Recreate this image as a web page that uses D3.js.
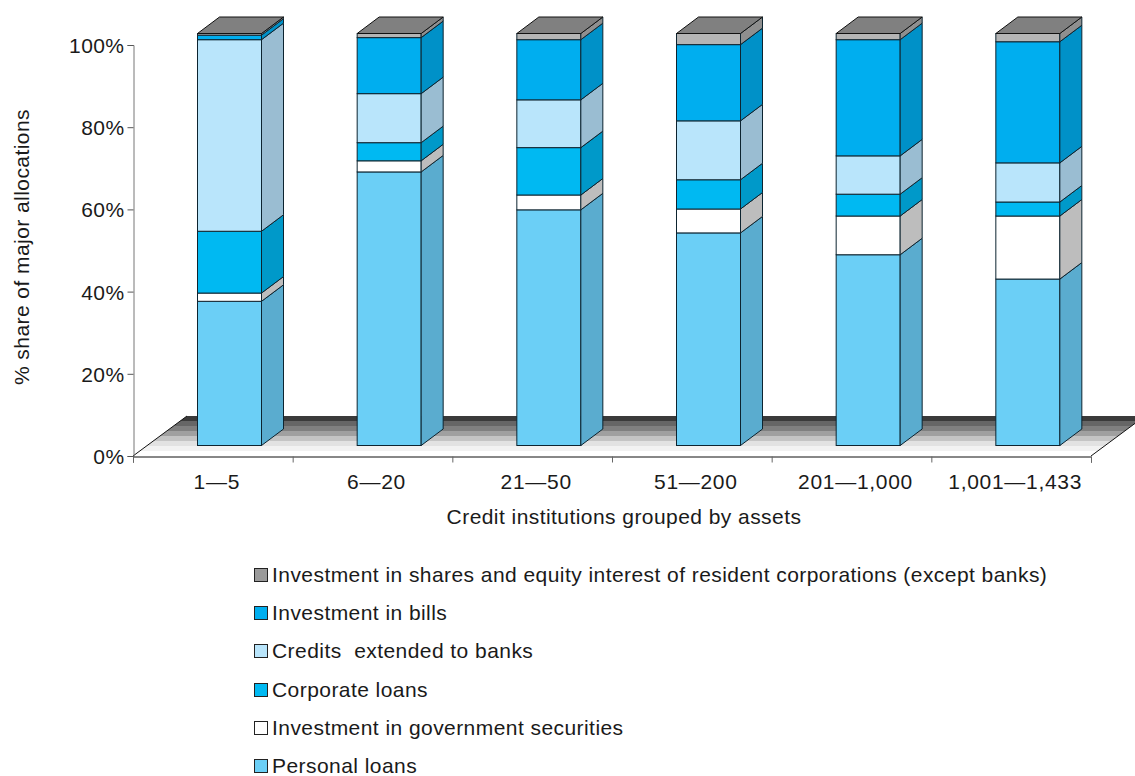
<!DOCTYPE html>
<html><head><meta charset="utf-8">
<script src="https://cdn.jsdelivr.net/npm/d3@7"></script>
<style>html,body{margin:0;padding:0;background:#fff}svg{display:block}text{font-family:"Liberation Sans",sans-serif;fill:#1a1a1a;white-space:pre;font-size:21px;letter-spacing:.44px}</style>
</head><body><div id="c"></div>
<script>
const categories=["1—5","6—20","21—50","51—200","201—1,000","1,001—1,433"];
const seriesNames=["Personal loans","Investment in government securities","Corporate loans","Credits  extended to banks","Investment in bills","Investment in shares and equity interest of resident corporations (except banks)"];
const personal=[35.0,66.4,57.2,51.6,46.3,40.4];
const government=[2.0,2.7,3.6,5.8,9.4,15.3];
const corporate=[15.0,4.4,11.5,7.1,5.3,3.4];
const credits=[46.5,11.9,11.6,14.3,9.3,9.5];
const bills=[1.1,13.6,14.6,18.5,28.2,29.4];
const shares=[0.4,1.0,1.5,2.7,1.5,2.0];
const tickLabels=[0,20,40,60,80,100];
const floorGreys=["#3a3a3a","#666666","#808080","#a0a0a0","#c4c4c4","#e2e2e2","#f2f2f2","#ffffff"];
const seriesValues=[personal,government,corporate,credits,bills,shares];
const frontColors=["#6bcff6","#ffffff","#00b9f2","#b9e5fb","#00aeef","#b5b5b5"];
const sideColors=["#5aaccf","#bdbdbd","#0099c9","#9abdd2","#0091c8","#8f8f8f"];
const topColor="#808080";

const W=1135,H=776;
const svg=d3.select("#c").append("svg").attr("width",W).attr("height",H);
const x=d3.scaleBand().domain(categories).range([133,1091]);
const y=d3.scaleLinear().domain([0,100]).range([456,44]);
const yTicks=d3.scaleLinear().domain([0,100]).range([456,45]);
const xEdges=d3.scaleLinear().domain([0,categories.length]).range([133,1091]);
const barW=64, offX=64, frontDy=11, sx=22, sy=16.5;
const fdx=54, fdy=40;

// floor bands
const floorG=svg.append("g");
const n=floorGreys.length;
const bandPos=d3.scaleLinear().domain([0,n]).range([0,fdy]);
floorGreys.forEach((c,i)=>{
  const d0=fdy-bandPos(i), d1=fdy-bandPos(i+1);
  const kx=fdx/fdy;
  const p=[[133+d0*kx,456-d0],[1091+d0*kx,456-d0],[1091+d1*kx,456-d1],[133+d1*kx,456-d1]];
  floorG.append("polygon").attr("points",p.join(" ")).attr("fill",c);
});
floorG.append("line").attr("x1",133).attr("y1",456).attr("x2",133+fdx).attr("y2",456-fdy).attr("stroke","#111").attr("stroke-width",1);
floorG.append("line").attr("x1",1091).attr("y1",456).attr("x2",1091+fdx).attr("y2",456-fdy).attr("stroke","#111").attr("stroke-width",1);

// axes
const yAxis=d3.axisLeft(yTicks).tickValues(tickLabels).tickFormat(d=>d+"%").tickSize(6).tickPadding(3);
const gy=svg.append("g").attr("transform","translate(133.5,0)").call(yAxis);
gy.selectAll("text").attr("font-size",null).attr("dy","0.36em");
gy.select(".domain").attr("stroke","#777");
gy.selectAll(".tick line").attr("stroke","#555");

const gx=svg.append("g").attr("transform","translate(0,456.5)")
 .call(d3.axisBottom(xEdges).tickValues(d3.range(categories.length+1)).tickFormat("").tickSize(6));
gx.select(".domain").attr("stroke","#111");
gx.selectAll(".tick line").attr("stroke","#666");
const gl=svg.append("g").attr("transform","translate(4,456)")
 .call(d3.axisBottom(x).tickSize(0).tickPadding(18));
gl.select(".domain").remove();
gl.selectAll("text").style("letter-spacing","0.7px");

// bars
categories.forEach((cat,ci)=>{
  const left=x(cat)+offX+.5, right=left+barW;
  let cum=0;
  seriesValues.forEach((s,si)=>{
    const v0=cum, v1=cum+s[ci]; cum=v1;
    const y0=y(v0)-frontDy+.5, y1=y(v1)-frontDy+.5;
    svg.append("rect").attr("x",left).attr("y",y1).attr("width",barW).attr("height",y0-y1)
      .attr("fill",frontColors[si]).attr("stroke","#0d2430").attr("stroke-width",1);
    svg.append("polygon").attr("points",[[right,y0],[right+sx,y0-sy],[right+sx,y1-sy],[right,y1]].join(" "))
      .attr("fill",sideColors[si]).attr("stroke","#0d2430").attr("stroke-width",1);
    if(si===seriesValues.length-1){
      svg.append("polygon").attr("points",[[left,y1],[left+sx,y1-sy],[right+sx,y1-sy],[right,y1]].join(" "))
        .attr("fill",topColor).attr("stroke","#111").attr("stroke-width",1);
    }
  });
});

// titles
svg.append("text").attr("x",624).attr("y",524).attr("text-anchor","middle").text("Credit institutions grouped by assets");
svg.append("text").attr("transform","translate(29,247) rotate(-90)").attr("text-anchor","middle").text("% share of major allocations");

// legend
const legendY=d3.scalePoint().domain(d3.range(seriesNames.length)).range([766,575]);
seriesNames.forEach((name,i)=>{
  const cy=legendY(i);
  svg.append("rect").attr("x",254.5).attr("y",Math.round(cy)-6.5).attr("width",13).attr("height",13)
    .attr("fill",i===5?"#9a9a9a":frontColors[i]).attr("stroke","#222").attr("stroke-width",1);
  svg.append("text").attr("x",272).attr("y",Math.round(cy)+7).text(name);
});
</script></body></html>
